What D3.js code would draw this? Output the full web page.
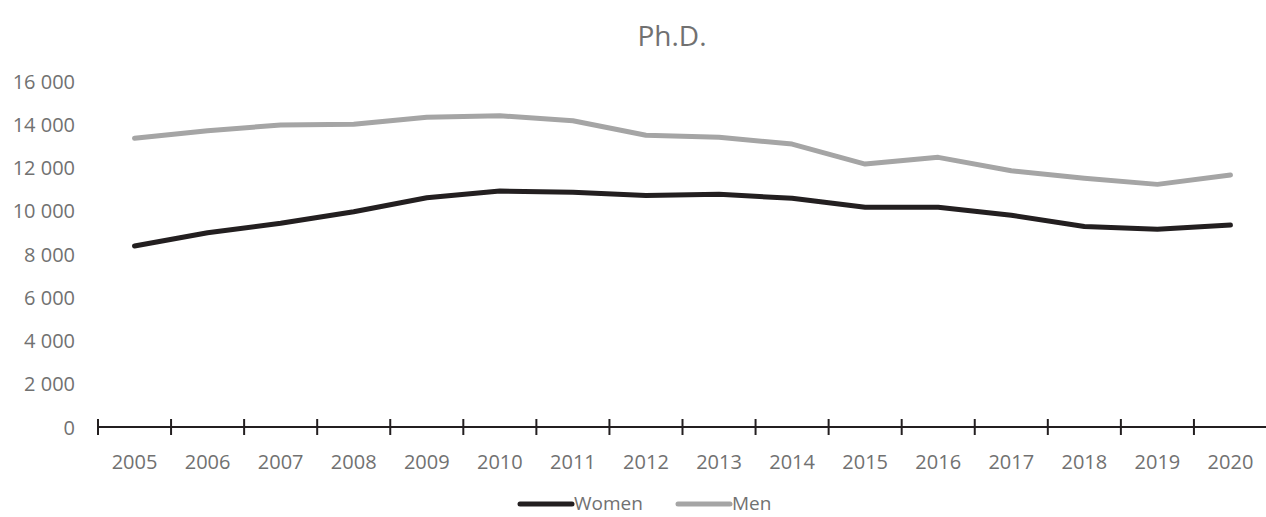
<!DOCTYPE html>
<html>
<head>
<meta charset="utf-8">
<script src="https://cdn.jsdelivr.net/npm/d3@7"></script>
<style>
  html, body { margin: 0; padding: 0; background: #fff; }
  svg { display: block; font-family: "Open Sans", sans-serif; }
</style>
</head>
<body>
<svg id="chart" width="1266" height="517"></svg>
<script>
const title = "Ph.D.";
const years = ["2005","2006","2007","2008","2009","2010","2011","2012","2013","2014","2015","2016","2017","2018","2019","2020"];
const women = [8370, 8985, 9420, 9955, 10600, 10910, 10850, 10700, 10760, 10575, 10160, 10160, 9790, 9270, 9150, 9340];
const men = [13350, 13700, 13965, 14000, 14320, 14395, 14165, 13490, 13395, 13085, 12160, 12470, 11850, 11500, 11220, 11650];
const yTicks = [0, 2000, 4000, 6000, 8000, 10000, 12000, 14000, 16000];
const seriesNames = ["Women", "Men"];
const seriesColors = ["#231f20", "#a5a5a5"];

const svg = d3.select("#chart");
const textColor = "#717171";

const x = d3.scaleBand().domain(years).range([98, 1267]).padding(0);
const y = d3.scaleLinear().domain([0, 16000]).range([427, 81]);

// title
svg.append("text")
  .attr("x", 672).attr("y", 35)
  .attr("text-anchor", "middle").attr("dominant-baseline", "central")
  .attr("font-size", 28).attr("fill", textColor)
  .text(title);

// y tick labels (no axis line)
const fmt = v => d3.format(",")(v).replace(/,/g, " ");
svg.append("g").selectAll("text").data(yTicks).join("text")
  .attr("x", 75).attr("y", d => y(d))
  .attr("text-anchor", "end").attr("dominant-baseline", "central")
  .attr("font-size", 20).attr("fill", textColor)
  .text(d => fmt(d));

// x axis
const xAxisG = svg.append("g");
xAxisG.append("line")
  .attr("x1", x.range()[0]).attr("x2", x.range()[1])
  .attr("y1", y(0)).attr("y2", y(0))
  .attr("stroke", "#231f20").attr("stroke-width", 2);
const tickXs = years.map(d => x(d));
xAxisG.selectAll("line.tick").data(tickXs).join("line")
  .attr("class", "tick")
  .attr("x1", d => d).attr("x2", d => d)
  .attr("y1", y(0) - 8).attr("y2", y(0) + 8)
  .attr("stroke", "#231f20").attr("stroke-width", 2);
xAxisG.selectAll("text").data(years).join("text")
  .attr("x", d => x(d) + x.bandwidth() / 2).attr("y", 461)
  .attr("text-anchor", "middle").attr("dominant-baseline", "central")
  .attr("font-size", 20).attr("fill", textColor)
  .text(d => d);

// lines
const line = d3.line()
  .x((d, i) => x(years[i]) + x.bandwidth() / 2)
  .y(d => y(d));
[women, men].forEach((vals, k) => {
  svg.append("path")
    .attr("d", line(vals))
    .attr("fill", "none")
    .attr("stroke", seriesColors[k])
    .attr("stroke-width", 5)
    .attr("stroke-linecap", "round")
    .attr("stroke-linejoin", "round");
});

// legend
const legendItems = [
  { name: seriesNames[0], color: seriesColors[0], x0: 520 },
  { name: seriesNames[1], color: seriesColors[1], x0: 678 }
];
const lg = svg.append("g");
legendItems.forEach(it => {
  lg.append("line")
    .attr("x1", it.x0).attr("x2", it.x0 + 52)
    .attr("y1", 504).attr("y2", 504)
    .attr("stroke", it.color).attr("stroke-width", 5)
    .attr("stroke-linecap", "round");
  lg.append("text")
    .attr("x", it.x0 + 54).attr("y", 510)
    .attr("font-size", 19).attr("fill", textColor)
    .text(it.name);
});
</script>
</body>
</html>
